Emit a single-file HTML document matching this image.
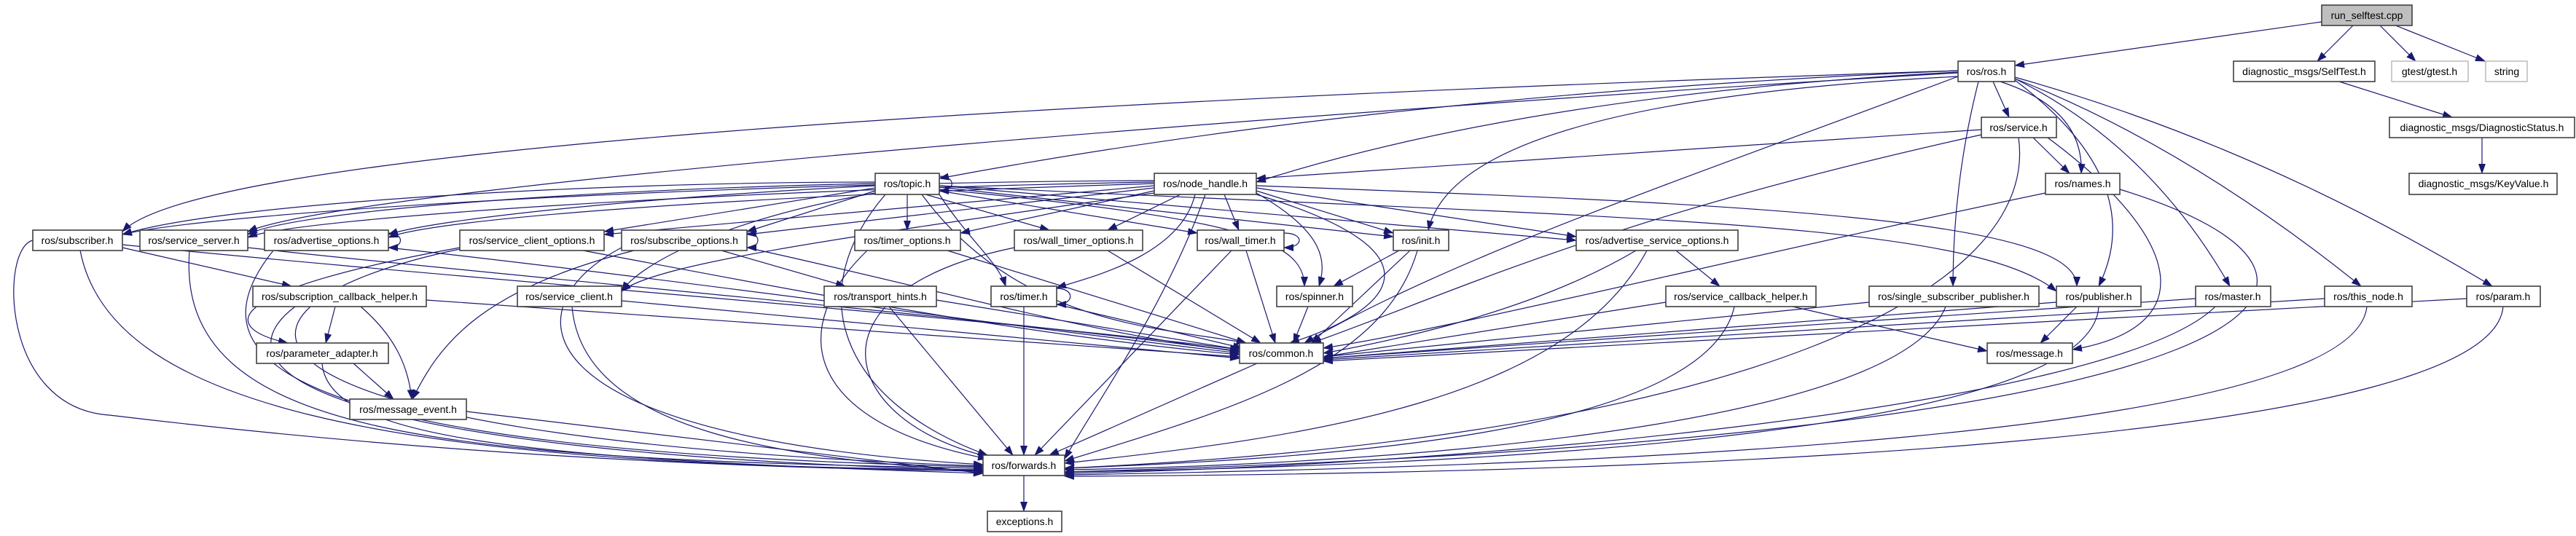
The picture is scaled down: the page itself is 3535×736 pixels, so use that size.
<!DOCTYPE html>
<html><head><meta charset="utf-8"><style>
html,body{margin:0;padding:0;background:#fff;}
svg{display:block;}
text{font-family:"Liberation Sans",sans-serif;font-size:14px;fill:#000;}
.e{fill:none;stroke:#191970;stroke-width:1.2;marker-end:url(#a);}
.n{fill:#fff;stroke:#404040;stroke-width:1.6;}
</style></head><body>
<svg width="3535" height="736" viewBox="0 0 3535 736" xmlns="http://www.w3.org/2000/svg">
<defs><marker id="a" markerUnits="userSpaceOnUse" markerWidth="14" markerHeight="10" refX="13" refY="5" orient="auto"><path d="M0,0 L14,5 L0,10 z" fill="#191970"/></marker></defs>
<g>
<path class="e" d="M3186,30 L2765,90"/>
<path class="e" d="M3230,34 L3180,84"/>
<path class="e" d="M3265,34 L3315,84"/>
<path class="e" d="M3285,34 L3410,84"/>
<path class="e" d="M3210,112 L3365,161"/>
<path class="e" d="M3406,189 L3406,238"/>
<path class="e" d="M2735,112 L2757,161"/>
<path class="e" d="M2745,112 Q2860,150 2856,238"/>
<path class="e" d="M2687,97 Q1900,130 1289,245"/>
<path class="e" d="M2687,99 Q2100,130 1724,250"/>
<path class="e" d="M2687,97 C2000,120 300,180 168,318"/>
<path class="e" d="M2687,100 C2000,140 500,250 340,318"/>
<path class="e" d="M2687,105 Q2000,140 1960,316"/>
<path class="e" d="M2715,112 Q2680,250 2680,393"/>
<path class="e" d="M2765,110 Q2950,250 2880,393"/>
<path class="e" d="M2765,108 Q2950,200 3060,393"/>
<path class="e" d="M2765,108 Q3000,200 3240,393"/>
<path class="e" d="M2765,106 Q3100,200 3420,393"/>
<path class="e" d="M2687,105 C2300,250 2000,350 1790,471"/>
<path class="e" d="M2719,178 L1724,245"/>
<path class="e" d="M2790,189 L2840,238"/>
<path class="e" d="M2719,185 C2200,300 2000,400 1800,471"/>
<path class="e" d="M2810,189 C3000,330 3020,450 2844,480"/>
<path class="e" d="M2770,189 C2800,400 2400,600 1461,643"/>
<path class="e" d="M2807,265 C2400,350 2000,450 1816,478"/>
<path class="e" d="M2909,260 C3300,380 3200,600 1461,648"/>
<path class="e" d="M1289,242 C1312,242 1312,262 1289,262"/>
<path class="e" d="M1201,250 C800,250 300,280 168,322"/>
<path class="e" d="M1201,252 C800,260 400,290 340,322"/>
<path class="e" d="M1201,255 C900,270 600,300 533,322"/>
<path class="e" d="M1201,258 L829,318"/>
<path class="e" d="M1201,262 L1025,318"/>
<path class="e" d="M1245,267 L1245,316"/>
<path class="e" d="M1270,267 L1440,316"/>
<path class="e" d="M1289,262 L1643,320"/>
<path class="e" d="M1289,267 C1330,330 1370,360 1380,393"/>
<path class="e" d="M1289,257 L1912,325"/>
<path class="e" d="M1289,255 L2163,330"/>
<path class="e" d="M1289,255 C2200,300 2700,300 2822,400"/>
<path class="e" d="M1289,260 C1700,300 1790,330 1790,393"/>
<path class="e" d="M1215,267 C1100,400 1150,550 1355,625"/>
<path class="e" d="M1265,267 C1400,450 1600,450 1710,471"/>
<path class="e" d="M1201,265 C1000,300 880,360 853,400"/>
<path class="e" d="M1584,248 C1000,250 300,290 168,322"/>
<path class="e" d="M1584,250 C1000,260 400,300 340,326"/>
<path class="e" d="M1584,252 C1000,270 600,300 533,326"/>
<path class="e" d="M1584,255 L829,322"/>
<path class="e" d="M1584,258 L1025,322"/>
<path class="e" d="M1584,262 L1318,320"/>
<path class="e" d="M1620,267 L1520,316"/>
<path class="e" d="M1680,267 L1700,316"/>
<path class="e" d="M1640,267 C1620,350 1500,380 1450,395"/>
<path class="e" d="M1724,262 L1912,320"/>
<path class="e" d="M1724,258 L2163,325"/>
<path class="e" d="M1724,255 C2400,280 2850,300 2850,393"/>
<path class="e" d="M1724,265 C1820,320 1820,360 1810,393"/>
<path class="e" d="M1724,267 C2000,350 1900,430 1770,471"/>
<path class="e" d="M1654,267 C1600,420 1500,560 1461,630"/>
<path class="e" d="M1584,265 C1200,320 900,360 853,400"/>
<path class="e" d="M168,340 L400,393"/>
<path class="e" d="M168,336 C600,380 1400,440 1701,480"/>
<path class="e" d="M110,344 C150,550 500,640 1349,645"/>
<path class="e" d="M45,330 C0,340 0,560 150,570 C400,600 800,640 1349,647"/>
<path class="e" d="M260,344 C240,600 600,630 1349,643"/>
<path class="e" d="M340,340 C700,380 1400,440 1701,483"/>
<path class="e" d="M533,320 C555,320 555,340 533,340"/>
<path class="e" d="M375,344 C250,500 400,620 1349,641"/>
<path class="e" d="M533,340 C900,380 1400,450 1701,485"/>
<path class="e" d="M631,340 C300,400 300,450 395,471"/>
<path class="e" d="M631,342 C260,420 250,600 1349,640"/>
<path class="e" d="M800,344 C1100,400 1400,460 1701,487"/>
<path class="e" d="M1025,320 C1045,320 1045,340 1025,340"/>
<path class="e" d="M990,344 L1160,393"/>
<path class="e" d="M1025,340 C1300,400 1500,460 1701,482"/>
<path class="e" d="M853,340 C700,420 700,600 1349,638"/>
<path class="e" d="M870,344 C650,400 600,480 566,548"/>
<path class="e" d="M1190,344 C1080,450 1100,580 1355,630"/>
<path class="e" d="M1300,344 L1710,471"/>
<path class="e" d="M1392,340 C1100,400 1150,580 1360,628"/>
<path class="e" d="M1520,344 L1730,471"/>
<path class="e" d="M1762,320 C1790,320 1790,340 1762,340"/>
<path class="e" d="M1690,344 L1420,625"/>
<path class="e" d="M1710,344 L1750,471"/>
<path class="e" d="M1920,344 L1830,393"/>
<path class="e" d="M1935,344 L1800,471"/>
<path class="e" d="M1945,344 C1900,500 1700,560 1461,633"/>
<path class="e" d="M2300,344 L2360,393"/>
<path class="e" d="M2245,344 C2100,430 1900,470 1816,485"/>
<path class="e" d="M2260,344 C2150,550 1800,600 1461,636"/>
<path class="e" d="M460,421 L447,471"/>
<path class="e" d="M495,421 C540,460 560,500 565,548"/>
<path class="e" d="M405,421 C300,500 400,620 1349,646"/>
<path class="e" d="M585,412 L1701,490"/>
<path class="e" d="M785,421 C800,600 1100,630 1349,648"/>
<path class="e" d="M853,413 L1701,492"/>
<path class="e" d="M1220,421 L1390,625"/>
<path class="e" d="M1285,412 L1701,480"/>
<path class="e" d="M1450,396 C1475,396 1475,418 1450,418"/>
<path class="e" d="M1405,421 L1405,625"/>
<path class="e" d="M1450,418 L1705,478"/>
<path class="e" d="M1795,421 L1775,471"/>
<path class="e" d="M2460,421 L2727,482"/>
<path class="e" d="M2286,415 L1816,490"/>
<path class="e" d="M2380,421 C2340,600 1800,630 1461,643"/>
<path class="e" d="M2565,415 L1816,490"/>
<path class="e" d="M2670,421 C2600,600 1800,640 1461,645"/>
<path class="e" d="M2850,421 L2800,471"/>
<path class="e" d="M2822,415 L1816,492"/>
<path class="e" d="M2880,421 C2870,600 2000,640 1461,648"/>
<path class="e" d="M3013,410 L1816,492"/>
<path class="e" d="M3040,421 C2900,560 2000,640 1461,650"/>
<path class="e" d="M3190,410 L1816,494"/>
<path class="e" d="M3248,421 C3230,600 2200,640 1461,652"/>
<path class="e" d="M3385,410 L1816,496"/>
<path class="e" d="M3435,421 C3420,600 2400,650 1461,654"/>
<path class="e" d="M485,499 L540,548"/>
<path class="e" d="M442,499 C450,600 700,630 1349,650"/>
<path class="e" d="M640,565 L1349,650"/>
<path class="e" d="M1725,499 L1440,625"/>
<path class="e" d="M1405,653 L1405,702"/>
</g>
<g>
<rect x="3186" y="7" width="124" height="28" fill="#bfbfbf" stroke="#404040" stroke-width="1.6"/><text x="3248" y="26" text-anchor="middle">run_selftest.cpp</text>
<rect class="n" x="2687" y="84" width="78" height="28"/><text x="2726" y="103" text-anchor="middle">ros/ros.h</text>
<rect class="n" x="3065" y="84" width="194" height="28"/><text x="3162" y="103" text-anchor="middle">diagnostic_msgs/SelfTest.h</text>
<rect x="3282" y="84" width="105" height="28" fill="#fff" stroke="#bfbfbf" stroke-width="1.6"/><text x="3334" y="103" text-anchor="middle">gtest/gtest.h</text>
<rect x="3411" y="84" width="57" height="28" fill="#fff" stroke="#bfbfbf" stroke-width="1.6"/><text x="3440" y="103" text-anchor="middle">string</text>
<rect class="n" x="2719" y="161" width="103" height="28"/><text x="2770" y="180" text-anchor="middle">ros/service.h</text>
<rect class="n" x="3279" y="161" width="254" height="28"/><text x="3406" y="180" text-anchor="middle">diagnostic_msgs/DiagnosticStatus.h</text>
<rect class="n" x="1201" y="238" width="88" height="29"/><text x="1245" y="257" text-anchor="middle">ros/topic.h</text>
<rect class="n" x="1584" y="238" width="140" height="29"/><text x="1654" y="257" text-anchor="middle">ros/node_handle.h</text>
<rect class="n" x="2807" y="238" width="102" height="29"/><text x="2858" y="257" text-anchor="middle">ros/names.h</text>
<rect class="n" x="3306" y="238" width="203" height="29"/><text x="3408" y="257" text-anchor="middle">diagnostic_msgs/KeyValue.h</text>
<rect class="n" x="45" y="316" width="123" height="28"/><text x="106" y="335" text-anchor="middle">ros/subscriber.h</text>
<rect class="n" x="192" y="316" width="148" height="28"/><text x="266" y="335" text-anchor="middle">ros/service_server.h</text>
<rect class="n" x="363" y="316" width="170" height="28"/><text x="448" y="335" text-anchor="middle">ros/advertise_options.h</text>
<rect class="n" x="631" y="316" width="198" height="28"/><text x="730" y="335" text-anchor="middle">ros/service_client_options.h</text>
<rect class="n" x="853" y="316" width="172" height="28"/><text x="939" y="335" text-anchor="middle">ros/subscribe_options.h</text>
<rect class="n" x="1173" y="316" width="145" height="28"/><text x="1245" y="335" text-anchor="middle">ros/timer_options.h</text>
<rect class="n" x="1392" y="316" width="176" height="28"/><text x="1480" y="335" text-anchor="middle">ros/wall_timer_options.h</text>
<rect class="n" x="1643" y="316" width="119" height="28"/><text x="1702" y="335" text-anchor="middle">ros/wall_timer.h</text>
<rect class="n" x="1912" y="316" width="76" height="28"/><text x="1950" y="335" text-anchor="middle">ros/init.h</text>
<rect class="n" x="2163" y="316" width="222" height="28"/><text x="2274" y="335" text-anchor="middle">ros/advertise_service_options.h</text>
<rect class="n" x="347" y="393" width="238" height="28"/><text x="466" y="412" text-anchor="middle">ros/subscription_callback_helper.h</text>
<rect class="n" x="710" y="393" width="143" height="28"/><text x="781" y="412" text-anchor="middle">ros/service_client.h</text>
<rect class="n" x="1131" y="393" width="154" height="28"/><text x="1208" y="412" text-anchor="middle">ros/transport_hints.h</text>
<rect class="n" x="1360" y="393" width="90" height="28"/><text x="1405" y="412" text-anchor="middle">ros/timer.h</text>
<rect class="n" x="1752" y="393" width="104" height="28"/><text x="1804" y="412" text-anchor="middle">ros/spinner.h</text>
<rect class="n" x="2286" y="393" width="206" height="28"/><text x="2389" y="412" text-anchor="middle">ros/service_callback_helper.h</text>
<rect class="n" x="2565" y="393" width="233" height="28"/><text x="2681" y="412" text-anchor="middle">ros/single_subscriber_publisher.h</text>
<rect class="n" x="2822" y="393" width="116" height="28"/><text x="2880" y="412" text-anchor="middle">ros/publisher.h</text>
<rect class="n" x="3013" y="393" width="103" height="28"/><text x="3064" y="412" text-anchor="middle">ros/master.h</text>
<rect class="n" x="3190" y="393" width="120" height="28"/><text x="3250" y="412" text-anchor="middle">ros/this_node.h</text>
<rect class="n" x="3385" y="393" width="101" height="28"/><text x="3435" y="412" text-anchor="middle">ros/param.h</text>
<rect class="n" x="352" y="471" width="181" height="28"/><text x="442" y="490" text-anchor="middle">ros/parameter_adapter.h</text>
<rect class="n" x="1701" y="471" width="115" height="28"/><text x="1758" y="490" text-anchor="middle">ros/common.h</text>
<rect class="n" x="2727" y="471" width="117" height="28"/><text x="2785" y="490" text-anchor="middle">ros/message.h</text>
<rect class="n" x="480" y="548" width="160" height="28"/><text x="560" y="567" text-anchor="middle">ros/message_event.h</text>
<rect class="n" x="1349" y="625" width="112" height="28"/><text x="1405" y="644" text-anchor="middle">ros/forwards.h</text>
<rect class="n" x="1355" y="702" width="102" height="28"/><text x="1406" y="721" text-anchor="middle">exceptions.h</text>
</g>
</svg>
</body></html>
